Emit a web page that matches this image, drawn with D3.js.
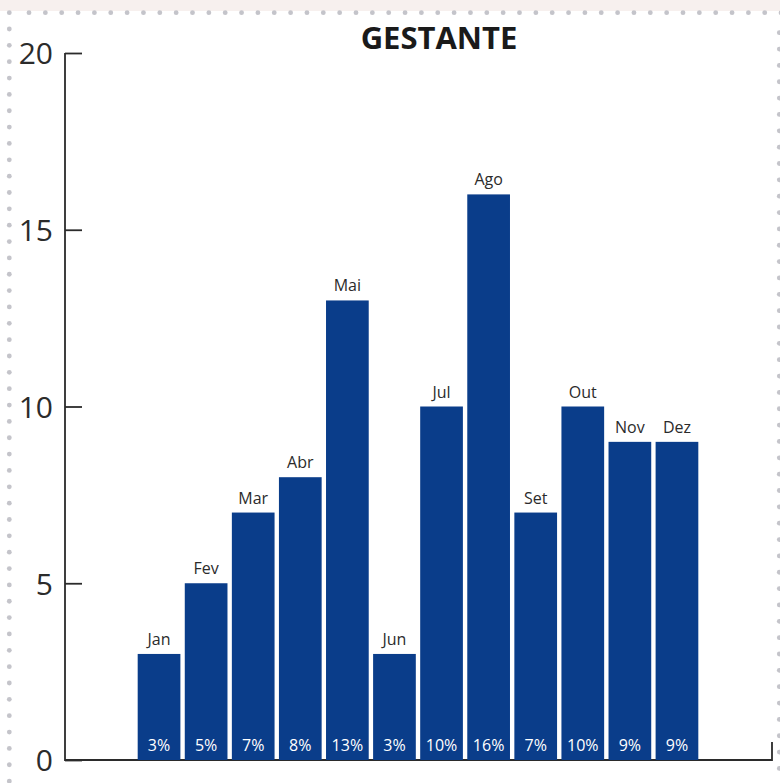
<!DOCTYPE html>
<html>
<head>
<meta charset="utf-8">
<script src="https://cdn.jsdelivr.net/npm/d3@7"></script>
<style>
  html, body { margin: 0; padding: 0; background: #fff; }
  svg { display: block; }
</style>
</head>
<body>
<div id="chart"></div>
<script>
// data
const months = ['Jan', 'Fev', 'Mar', 'Abr', 'Mai', 'Jun', 'Jul', 'Ago', 'Set', 'Out', 'Nov', 'Dez']
const counts = [3, 5, 7, 8, 13, 3, 10, 16, 7, 10, 9, 9]
const percents = ['3%', '5%', '7%', '8%', '13%', '3%', '10%', '16%', '7%', '10%', '9%', '9%']
const yTicks = [0, 5, 10, 15, 20]
const title = 'GESTANTE'

const width = 780
const height = 783
const barColor = '#0a3d8a'
const ink = '#2b2b2b'
const font = '"Open Sans", "Noto Sans", sans-serif'

const svg = d3.select('#chart').append('svg')
  .attr('width', width)
  .attr('height', height)

// faint band along the top edge
svg.append('rect')
  .attr('x', 0).attr('y', 0)
  .attr('width', width).attr('height', 11)
  .attr('fill', '#f7f0ee')

// dotted frame
const dotGap = 16.35
const dots = []
for (let x = 29; x < width + 2; x += dotGap) dots.push([x, 12.7])
for (let y = 29; y < height; y += dotGap) dots.push([9.3, y])
for (let y = 32.7; y < height; y += dotGap) dots.push([779.3, y])
dots.push([9.3, 12.7])
svg.selectAll('circle.dot')
  .data(dots)
  .enter()
  .append('circle')
  .attr('class', 'dot')
  .attr('cx', d => d[0])
  .attr('cy', d => d[1])
  .attr('r', 2.4)
  .attr('fill', '#c4c4ca')

const x = d3.scaleBand()
  .domain(months)
  .range([135.5, 700.5])
  .paddingInner(0.093)
  .paddingOuter(0.0465)

const y = d3.scaleLinear()
  .domain([0, 20])
  .range([760, 53])

// y axis, ticks pointing into the plot
const yAxis = svg.append('g')
  .attr('transform', 'translate(65,0)')
  .call(d3.axisRight(y).tickValues(yTicks).tickSize(17).tickFormat(d3.format('d')))
yAxis.select('.domain').remove()
yAxis.selectAll('line').attr('stroke', ink).attr('stroke-width', 1.8)
yAxis.selectAll('text')
  .attr('x', -12)
  .attr('dy', '0.36em')
  .attr('text-anchor', 'end')
  .style('font-family', font)
  .style('font-size', '30px')
  .attr('fill', ink)

svg.append('path')
  .attr('d', `M65,${y(20)}V${y(0)}H772V742`)
  .attr('fill', 'none')
  .attr('stroke', ink)
  .attr('stroke-width', 1.8)

// bars
svg.selectAll('rect.bar')
  .data(months)
  .enter()
  .append('rect')
  .attr('class', 'bar')
  .attr('x', d => x(d))
  .attr('y', (d, i) => y(counts[i]))
  .attr('width', x.bandwidth())
  .attr('height', (d, i) => y(0) - y(counts[i]))
  .attr('fill', barColor)

// month names on top of bars
svg.selectAll('text.month')
  .data(months)
  .enter()
  .append('text')
  .attr('class', 'month')
  .attr('x', d => x(d) + x.bandwidth() / 2)
  .attr('y', (d, i) => y(counts[i]) - 9)
  .attr('text-anchor', 'middle')
  .style('font-family', font)
  .style('font-size', '16px')
  .attr('fill', ink)
  .text(d => d)

// percentages inside bars
svg.selectAll('text.pct')
  .data(months)
  .enter()
  .append('text')
  .attr('class', 'pct')
  .attr('x', d => x(d) + x.bandwidth() / 2)
  .attr('y', 751)
  .attr('text-anchor', 'middle')
  .style('font-family', font)
  .style('font-size', '16px')
  .attr('fill', '#fff')
  .text((d, i) => percents[i])

svg.append('text')
  .attr('x', 439)
  .attr('y', 49)
  .attr('text-anchor', 'middle')
  .style('font-family', font)
  .style('font-size', '31px')
  .style('font-weight', 700)
  .attr('fill', '#1a1a1a')
  .text(title)
</script>
</body>
</html>
